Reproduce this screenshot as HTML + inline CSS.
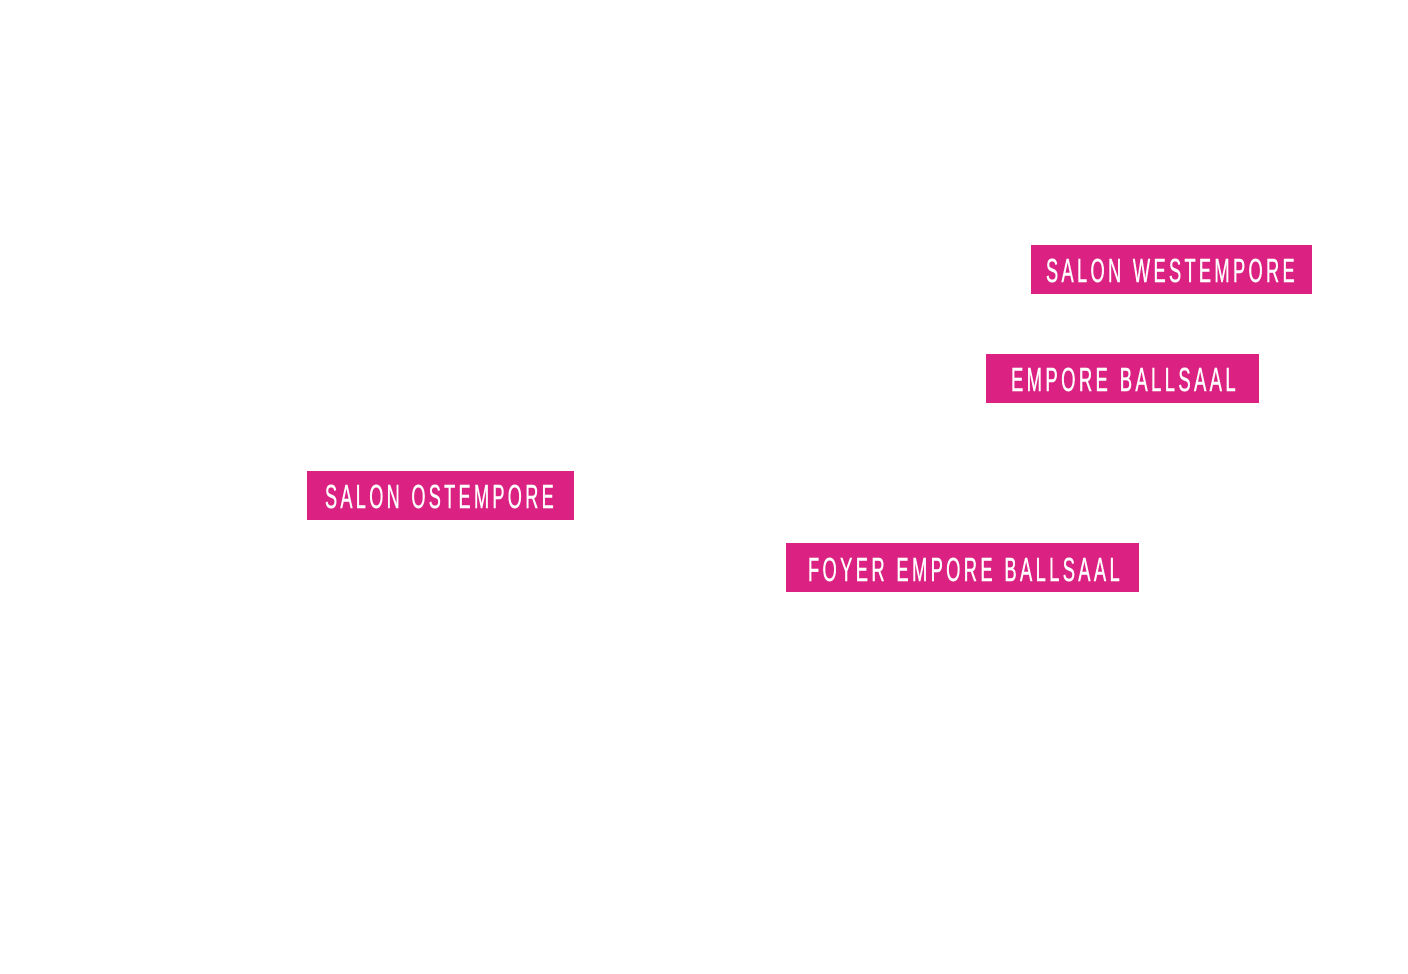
<!DOCTYPE html>
<html><head><meta charset="utf-8"><style>
html,body{margin:0;padding:0;background:#fff;width:1408px;height:974px;overflow:hidden}
</style></head><body>
<svg width="1408" height="974" viewBox="0 0 1408 974" xmlns="http://www.w3.org/2000/svg">
<g fill="#db2282">
<rect x="1031" y="245" width="281" height="49"/>
<rect x="986" y="354" width="273" height="49"/>
<rect x="307" y="471" width="267" height="49"/>
<rect x="786" y="543" width="353" height="49"/>
</g>
<g fill="#fff" stroke="#fff" stroke-width="0.5" font-family="Liberation Sans, sans-serif" font-size="33" letter-spacing="6">
<text x="1046" y="282" textLength="252" lengthAdjust="spacingAndGlyphs">SALON WESTEMPORE</text>
<text x="1011" y="391" textLength="228" lengthAdjust="spacingAndGlyphs">EMPORE BALLSAAL</text>
<text x="325" y="508" textLength="232" lengthAdjust="spacingAndGlyphs">SALON OSTEMPORE</text>
<text x="808" y="581" textLength="315" lengthAdjust="spacingAndGlyphs">FOYER EMPORE BALLSAAL</text>
</g>
</svg>
</body></html>
